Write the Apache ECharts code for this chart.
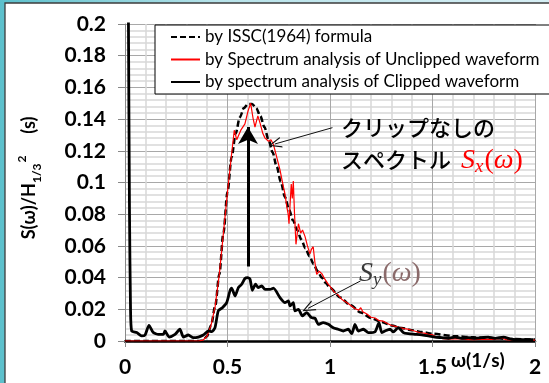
<!DOCTYPE html>
<html><head><meta charset="utf-8">
<script src="https://cdn.jsdelivr.net/npm/echarts@6/dist/echarts.min.js"></script>
<style>html,body{margin:0;padding:0;background:#fff}#c{width:549px;height:383px}</style>
</head><body><div id="c"></div>
<script>
const xTickLabels = ['0', '0.5', '1', '1.5', '2'];
const yTickLabels = ['0', '0.02', '0.04', '0.06', '0.08', '0.1', '0.12', '0.14', '0.16', '0.18', '0.2'];
const seriesNames = ['by ISSC(1964) formula', 'by Spectrum analysis of Unclipped waveform', 'by spectrum analysis of Clipped waveform'];

const isscOmega = [0, 0.1, 0.2, 0.3, 0.36, 0.38, 0.40, 0.42, 0.44, 0.46, 0.48, 0.50, 0.52, 0.54, 0.56, 0.58, 0.60, 0.62, 0.64, 0.66, 0.68, 0.70, 0.72, 0.74, 0.76, 0.78, 0.80, 0.82, 0.84, 0.86, 0.88, 0.90, 0.92, 0.94, 0.96, 0.98, 1.00, 1.05, 1.10, 1.15, 1.2, 1.25, 1.3, 1.35, 1.4, 1.45, 1.5, 1.6, 1.7, 1.8, 1.9, 2.0];
const isscValue = [0, 0, 0, 0, 0, 0.0003, 0.003, 0.010, 0.022, 0.042, 0.068, 0.094, 0.116, 0.131, 0.141, 0.147, 0.1495, 0.1495, 0.147, 0.142, 0.135, 0.127, 0.119, 0.110, 0.1005, 0.091, 0.083, 0.076, 0.070, 0.064, 0.0585, 0.0535, 0.0485, 0.044, 0.040, 0.0365, 0.0335, 0.0275, 0.0225, 0.018, 0.0145, 0.012, 0.0098, 0.0082, 0.0068, 0.0056, 0.0046, 0.0032, 0.0023, 0.0017, 0.0012, 0.0009];

const unclippedOmega = [0, 0.36, 0.38, 0.40, 0.42, 0.44, 0.46, 0.48, 0.50, 0.51, 0.52, 0.533, 0.545, 0.553, 0.565, 0.585, 0.60, 0.613, 0.624, 0.634, 0.648, 0.66, 0.672, 0.683, 0.70, 0.712, 0.724, 0.74, 0.756, 0.77, 0.78, 0.789, 0.796, 0.80, 0.806, 0.811, 0.816, 0.821, 0.827, 0.834, 0.846, 0.857, 0.866, 0.878, 0.89, 0.902, 0.91, 0.918, 0.926, 0.935, 0.947, 0.96, 0.975, 0.99, 1.00, 1.02, 1.04, 1.06, 1.08, 1.1, 1.12, 1.14, 1.15, 1.16, 1.18, 1.2, 1.22, 1.24, 1.26, 1.28, 1.3, 1.32, 1.34, 1.36, 1.38, 1.4, 1.42, 1.44, 1.46, 1.48, 1.5, 1.52, 1.55, 1.58, 1.62, 1.66, 1.7, 1.75, 1.8, 1.84, 1.86, 1.9, 1.95, 2.0];
const unclippedValue = [0, 0, 0.0005, 0.003, 0.010, 0.022, 0.042, 0.068, 0.094, 0.106, 0.118, 0.133, 0.127, 0.126, 0.133, 0.137, 0.145, 0.150, 0.141, 0.135, 0.142, 0.137, 0.131, 0.128, 0.126, 0.127, 0.124, 0.116, 0.108, 0.099, 0.093, 0.085, 0.080, 0.074, 0.088, 0.099, 0.090, 0.101, 0.080, 0.061, 0.074, 0.068, 0.070, 0.066, 0.060, 0.055, 0.058, 0.0595, 0.050, 0.042, 0.044, 0.0425, 0.039, 0.036, 0.0345, 0.031, 0.029, 0.026, 0.0245, 0.0225, 0.0205, 0.0195, 0.021, 0.0185, 0.017, 0.015, 0.0145, 0.0128, 0.0125, 0.011, 0.0098, 0.0092, 0.0085, 0.0078, 0.0075, 0.0068, 0.006, 0.0052, 0.005, 0.0042, 0.004, 0.0025, 0.0015, 0.0012, 0.0015, 0.001, 0.0008, 0.0012, 0.001, 0.0018, 0.0008, 0.0006, 0.0007, 0.0005];

const clippedOmega = [0.016, 0.022, 0.027, 0.0325, 0.057, 0.081, 0.098, 0.117, 0.138, 0.163, 0.187, 0.195, 0.215, 0.244, 0.268, 0.285, 0.309, 0.333, 0.358, 0.382, 0.407, 0.423, 0.439, 0.455, 0.475, 0.496, 0.512, 0.52, 0.537, 0.553, 0.569, 0.585, 0.598, 0.61, 0.621, 0.637, 0.65, 0.667, 0.683, 0.707, 0.724, 0.756, 0.78, 0.797, 0.805, 0.821, 0.829, 0.846, 0.865, 0.886, 0.91, 0.927, 0.943, 0.967, 0.992, 1.016, 1.04, 1.065, 1.089, 1.106, 1.122, 1.138, 1.163, 1.187, 1.22, 1.239, 1.252, 1.268, 1.293, 1.309, 1.333, 1.358, 1.382, 1.415, 1.447, 1.48, 1.512, 1.545, 1.577, 1.61, 1.642, 1.675, 1.707, 1.74, 1.772, 1.805, 1.846, 1.886, 1.935, 1.992];
const clippedValue = [0.22, 0.08, 0.02, 0.0063, 0.0053, 0.0032, 0.0038, 0.0099, 0.0053, 0.0042, 0.0042, 0.0063, 0.0025, 0.0042, 0.0074, 0.0025, 0.0038, 0.0021, 0.0025, 0.0038, 0.0063, 0.0059, 0.0084, 0.019, 0.021, 0.0242, 0.0316, 0.0333, 0.0284, 0.0337, 0.0358, 0.0394, 0.040, 0.039, 0.032, 0.0358, 0.0337, 0.0347, 0.0326, 0.0326, 0.0333, 0.0274, 0.0242, 0.0253, 0.0221, 0.0242, 0.019, 0.020, 0.0158, 0.0179, 0.0147, 0.0143, 0.0105, 0.0116, 0.0105, 0.0084, 0.0074, 0.0063, 0.0074, 0.0046, 0.0105, 0.0063, 0.0074, 0.0053, 0.0059, 0.0116, 0.0053, 0.0063, 0.0074, 0.0057, 0.0084, 0.0053, 0.0046, 0.0042, 0.0038, 0.0032, 0.0025, 0.0021, 0.0017, 0.0025, 0.0017, 0.0021, 0.0017, 0.0021, 0.0025, 0.0017, 0.0025, 0.0011, 0.0008, 0.0008];

// annotation arrows (data units)
const peakArrow = [[0.6, 0.047], [0.6, 0.135]];
const sxArrow = [[1.012, 0.1346], [0.731, 0.1243]];
const syArrow = [[1.149, 0.0379], [0.893, 0.0206]];

const zip = (a, b) => a.map((x, i) => [x, b[i]]);
const FONT = 'Lato, "Open Sans", sans-serif';
const openArrow = 'path://M5,0 L10,12 L8.8,12 L5,2.6 L1.2,12 L0,12 Z';
const SERIF = '"Liberation Serif", "DejaVu Serif", serif';

function mathRich(main, paren) {
  return {
    s: {fontFamily: SERIF, fontStyle: 'italic', fontSize: 28, fill: main, lineHeight: 30},
    sub: {fontFamily: SERIF, fontStyle: 'italic', fontSize: 19, fill: main, verticalAlign: 'bottom', lineHeight: 22, padding: [0, 1, 0, 0]},
    p: {fontFamily: SERIF, fontSize: 28, fill: paren, lineHeight: 30},
    w: {fontFamily: SERIF, fontStyle: 'italic', fontSize: 28, fill: paren, lineHeight: 30}
  };
}

const chart = echarts.init(document.getElementById('c'));
chart.setOption({
  animation: false,
  backgroundColor: {type: 'linear', x: 0, y: 0, x2: 1, y2: 0, colorStops: [
    {offset: 0, color: '#5cc0cc'}, {offset: 0.4, color: '#b7e3ea'}, {offset: 1, color: '#d6eef4'}]},
  color: ['#000000', '#ff0000', '#000000'],
  grid: {left: 125, right: 14, top: 24, bottom: 42},
  legend: {
    orient: 'vertical', left: 155, top: 25,
    backgroundColor: '#fff', borderColor: '#000', borderWidth: 1,
    padding: [3, 14, 3, 15], itemWidth: 29, itemHeight: 14, itemGap: 4.5,
    itemStyle: {opacity: 0},
    textStyle: {fontFamily: FONT, fontSize: 17, color: '#000', lineHeight: 18},
    data: seriesNames
  },
  xAxis: {
    type: 'value', min: 0, max: 2, interval: 0.5,
    axisLine: {onZero: false, lineStyle: {color: '#000', width: 2.5}},
    axisTick: {show: true, length: 6, lineStyle: {color: '#888'}},
    axisLabel: {margin: 16, fontFamily: FONT, fontWeight: 'bold', fontSize: 21, color: '#000',
      formatter: v => xTickLabels[Math.round(v / 0.5)]},
    splitLine: {show: true, lineStyle: {color: '#a8a8a8', width: 1}},
    minorTick: {show: false, splitNumber: 5},
    minorSplitLine: {show: true, lineStyle: {color: '#d8d8d8', width: 1.5}}
  },
  yAxis: {
    type: 'value', min: 0, max: 0.2, interval: 0.02,
    axisLine: {show: true, lineStyle: {color: '#888', width: 1}},
    axisTick: {show: true, length: 7, lineStyle: {color: '#888'}},
    axisLabel: {margin: 19, fontFamily: FONT, fontWeight: 'bold', fontSize: 21, color: '#000',
      formatter: v => yTickLabels[Math.round(v / 0.02)]},
    splitLine: {show: true, lineStyle: {color: '#a8a8a8', width: 1}},
    minorTick: {show: false, splitNumber: 5},
    minorSplitLine: {show: true, lineStyle: {color: '#d8d8d8', width: 1.5}}
  },
  series: [
    {name: seriesNames[0], type: 'line', data: zip(isscOmega, isscValue), symbol: 'none', z: 2,
      smooth: 0.3, smoothMonotone: 'x',
      lineStyle: {color: '#000', width: 2.5, type: [6, 3]},
      markLine: {silent: true, animation: false, label: {show: false},
        symbol: ['none', openArrow], symbolSize: [11, 13],
        lineStyle: {color: '#111', width: 1, type: 'solid'},
        data: [
          [{coord: sxArrow[0]}, {coord: sxArrow[1]}],
          [{coord: syArrow[0]}, {coord: syArrow[1]}]
        ]}},
    {name: seriesNames[1], type: 'line', data: zip(unclippedOmega, unclippedValue), symbol: 'none', z: 3,
      lineStyle: {color: '#ff0000', width: 1.2}},
    {name: seriesNames[2], type: 'line', data: zip(clippedOmega, clippedValue), symbol: 'none', z: 4,
      smooth: 0.2, lineStyle: {color: '#000', width: 2.8},
      markLine: {silent: true, animation: false, label: {show: false},
        symbol: ['none', 'arrow'], symbolSize: [15, 17],
        lineStyle: {color: '#000', width: 3, type: 'solid'},
        data: [[{coord: peakArrow[0]}, {coord: peakArrow[1]}]]}}
  ],
  graphic: [
    {type: 'rect', z: -100, shape: {x: 5, y: 3, width: 600, height: 420},
      style: {fill: '#fff', stroke: '#3c3c3c', lineWidth: 1.3}},
    {type: 'text', x: 341, y: 128, z: 50, style: {text: 'クリップなしの', fontFamily: '"Noto Sans CJK JP"', fontWeight: 500, fontSize: 22, fill: '#000', verticalAlign: 'middle'}},
    {type: 'text', x: 341, y: 160, z: 50, style: {text: 'スペクトル', fontFamily: '"Noto Sans CJK JP"', fontWeight: 500, fontSize: 22, fill: '#000', verticalAlign: 'middle'}},
    {type: 'text', x: 461, y: 161, z: 50, style: {
      text: '{s|S}{sub|x}{p|(}{w|ω}{p|)}', verticalAlign: 'middle', rich: mathRich('#ff0000', '#ff0000')}},
    {type: 'text', x: 359, y: 274, z: 50, style: {
      text: '{s|S}{sub|y}{p|(}{w|ω}{p|)}', verticalAlign: 'middle', rich: mathRich('#3a3a3a', '#8a6a6a')}},
    {type: 'text', x: 451, y: 361, z: 50, style: {text: 'ω(1/s)', fontFamily: FONT, fontWeight: 'bold', fontSize: 19, fill: '#000', verticalAlign: 'middle'}},
    {type: 'text', x: 29, y: 178, z: 50, rotation: Math.PI / 2, style: {
      text: '{m|S(ω)/H}{sub|1/3}{sup|2}{m|     (s)}', align: 'center', verticalAlign: 'middle',
      rich: {
        m: {fontFamily: FONT, fontWeight: 'bold', fontSize: 18, fill: '#000', lineHeight: 20},
        sub: {fontFamily: FONT, fontWeight: 'bold', fontSize: 12, fill: '#000', verticalAlign: 'bottom', lineHeight: 12, padding: [0, 0, -4, 0]},
        sup: {fontFamily: FONT, fontWeight: 'bold', fontSize: 12, fill: '#000', verticalAlign: 'top', lineHeight: 12, padding: [-3, 0, 0, 1]}
      }}}
  ]
});
</script></body></html>
